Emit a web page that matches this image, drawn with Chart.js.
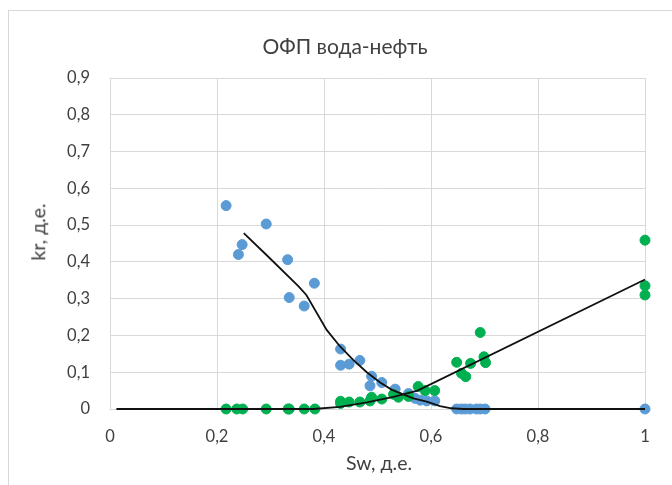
<!DOCTYPE html>
<html lang="ru">
<head>
  <meta charset="UTF-8" />
  <title>ОФП вода-нефть</title>
  <script src="https://cdn.jsdelivr.net/npm/chart.js"></script>
  <style>
    html, body { margin: 0; padding: 0; background: #fff; }
    .wrap { position: relative; width: 672px; height: 485px; overflow: hidden; font-family: Lato, "Open Sans", sans-serif; color: #404040; }
    .frame { position: absolute; left: 8px; top: 10px; width: 700px; height: 520px; border: 1px solid #d9d9d9; }
    canvas { position: absolute; left: 0; top: 0; }
    .lbl { position: absolute; white-space: nowrap; transform: translate(-50%, -50%); line-height: 1; }
    #title { left: 345px; top: 45px; font-size: 21px; }
    #ytitle { left: 38px; top: 232px; font-size: 19.5px; transform: translate(-50%, -50%) rotate(-90deg); }
    #xtitle { left: 379px; top: 463px; font-size: 19.5px; }
  </style>
</head>
<body>
  <div class="wrap">
    <div class="frame"></div>
    <canvas id="kr" width="672" height="485"></canvas>
    <div class="lbl" id="title">ОФП вода-нефть</div>
    <div class="lbl" id="ytitle">kr, д.е.</div>
    <div class="lbl" id="xtitle">Sw, д.е.</div>
  </div>
  <script>
    // замеры: нефть (синие)
    const oilSw = [0.217, 0.24, 0.247, 0.292, 0.332, 0.335, 0.363, 0.382, 0.431, 0.431, 0.447, 0.467,
      0.489, 0.486, 0.508, 0.533, 0.558, 0.57, 0.58, 0.592, 0.607, 0.648, 0.657, 0.664, 0.673, 0.685, 0.692, 0.701, 1.0];
    const oilKr = [0.553, 0.42, 0.447, 0.503, 0.406, 0.303, 0.28, 0.342, 0.163, 0.119, 0.122, 0.132,
      0.089, 0.063, 0.072, 0.054, 0.042, 0.029, 0.024, 0.022, 0.022, 0, 0, 0, 0, 0, 0, 0, 0];

    // замеры: вода (зелёные)
    const waterSw = [0.217, 0.237, 0.248, 0.292, 0.333, 0.335, 0.363, 0.383, 0.431, 0.431, 0.447, 0.467,
      0.489, 0.486, 0.508, 0.53, 0.539, 0.558, 0.576, 0.589, 0.607, 0.648, 0.657, 0.665, 0.674, 0.692, 0.699, 0.702, 1.0, 1.0, 1.0];
    const waterKr = [0, 0, 0, 0, 0, 0, 0, 0, 0.021, 0.015, 0.019, 0.019,
      0.032, 0.022, 0.027, 0.04, 0.032, 0.034, 0.061, 0.05, 0.05, 0.127, 0.097, 0.088, 0.124, 0.208, 0.142, 0.126, 0.459, 0.335, 0.31];

    // линии тренда
    const oilTrendSw = [0.25, 0.293, 0.352, 0.367, 0.405, 0.43, 0.455, 0.48, 0.505, 0.527, 0.567, 0.592, 0.617, 0.638, 0.66, 1.0];
    const oilTrendKr = [0.478, 0.418, 0.334, 0.31, 0.215, 0.17, 0.133, 0.1, 0.072, 0.052, 0.029, 0.02, 0.008, 0.002, 0, 0];
    const waterTrendSw = [0.012, 0.38, 0.43, 0.48, 0.53, 0.575, 1.0];
    const waterTrendKr = [0, 0, 0.006, 0.018, 0.033, 0.05, 0.352];

    const xTicks = [0, 0.2, 0.4, 0.6, 0.8, 1];

    function pts(xs, ys) {
      return xs.map((x, i) => ({ x: x, y: ys[i] }));
    }
    function fmt(v) {
      return String(Math.round(v * 10) / 10).replace('.', ',');
    }

    Chart.defaults.font.family = 'Lato, "Open Sans", sans-serif';
    Chart.defaults.color = '#404040';

    new Chart(document.getElementById('kr'), {
      type: 'scatter',
      data: {
        datasets: [
          { label: 'krw тренд', data: pts(waterTrendSw, waterTrendKr), showLine: true, borderColor: '#111', borderWidth: 1.8, pointRadius: 0, order: 0 },
          { label: 'kro тренд', data: pts(oilTrendSw, oilTrendKr), showLine: true, borderColor: '#111', borderWidth: 1.8, pointRadius: 0, order: 0 },
          { label: 'kro', data: pts(oilSw, oilKr), backgroundColor: '#5b9bd5', borderColor: '#5b9bd5', pointRadius: 5, order: 2 },
          { label: 'krw', data: pts(waterSw, waterKr), backgroundColor: '#00b050', borderColor: '#00b050', pointRadius: 5, order: 1 }
        ]
      },
      options: {
        responsive: false,
        animation: false,
        clip: false,
        layout: { padding: { left: 24, right: 27, top: 78, bottom: 10 } },
        plugins: {
          legend: { display: false },
          tooltip: { enabled: false }
        },
        scales: {
          x: {
            type: 'linear', min: 0, max: 1,
            afterBuildTicks: s => { s.ticks = xTicks.map(v => ({ value: v })); },
            ticks: { callback: v => fmt(v), font: { size: 16.5 }, padding: 18, maxRotation: 0 },
            grid: { color: '#d9d9d9', drawTicks: false },
            border: { display: false },
            afterFit: s => { s.height = 66; }
          },
          y: {
            min: 0, max: 0.9,
            ticks: { stepSize: 0.1, callback: v => fmt(v), font: { size: 16.5 }, padding: 20 },
            grid: { color: '#d9d9d9', drawTicks: false },
            border: { display: false },
            afterFit: s => { s.width = 86; }
          }
        }
      }
    });
  </script>
</body>
</html>
